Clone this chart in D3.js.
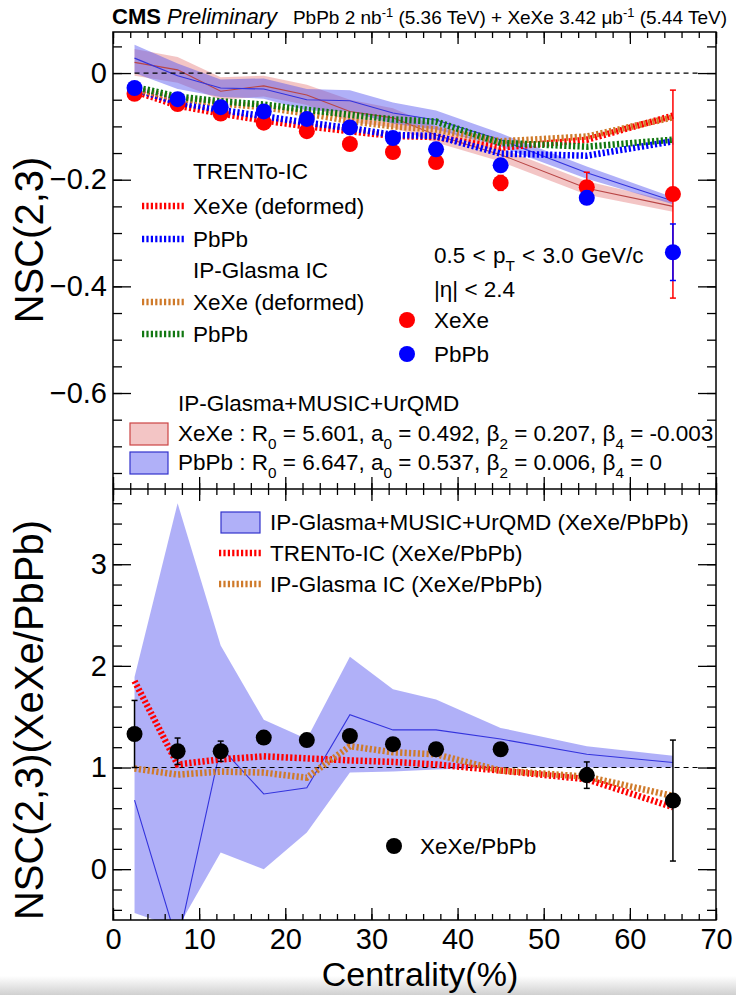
<!DOCTYPE html>
<html>
<head>
<meta charset="utf-8">
<script src="https://cdn.jsdelivr.net/npm/d3@7"></script>
<style>
  body { margin: 0; background: #fff; }
  svg { font-family: "Liberation Sans", Arial, Helvetica, sans-serif; }
</style>
</head>
<body>
<svg id="chart" width="736" height="995"></svg>
<script>
// centrality bins (%)
const centrality = [2.5, 7.5, 12.5, 17.5, 22.5, 27.5, 32.5, 37.5, 45, 55, 65]

// CMS data, NSC(2,3)
const xexeData = [-0.039, -0.058, -0.076, -0.093, -0.109, -0.133, -0.148, -0.167, -0.206, -0.214, -0.227]
const xexeErr = [0.004, 0.004, 0.004, 0.005, 0.005, 0.006, 0.007, 0.008, 0.014, 0.028, 0.195]
const pbpbData = [-0.028, -0.049, -0.064, -0.072, -0.086, -0.102, -0.122, -0.143, -0.173, -0.234, -0.336]
const pbpbErr = [0.003, 0.003, 0.003, 0.004, 0.004, 0.005, 0.006, 0.007, 0.011, 0.012, 0.053]

// IP-Glasma+MUSIC+UrQMD bands
const xexeHydro = [0.020, 0.006, -0.034, -0.024, -0.041, -0.072, -0.084, -0.116, -0.153, -0.216, -0.250]
const xexeHydroHi = [0.045, 0.030, -0.008, -0.005, -0.022, -0.050, -0.066, -0.100, -0.141, -0.203, -0.241]
const xexeHydroLo = [-0.005, -0.018, -0.050, -0.044, -0.060, -0.092, -0.102, -0.130, -0.166, -0.228, -0.260]
const pbpbHydro = [0.028, -0.005, -0.028, -0.030, -0.050, -0.052, -0.075, -0.088, -0.125, -0.187, -0.240]
const pbpbHydroHi = [0.053, 0.018, -0.012, -0.010, -0.030, -0.032, -0.055, -0.070, -0.113, -0.175, -0.233]
const pbpbHydroLo = [0.000, -0.030, -0.045, -0.048, -0.070, -0.072, -0.095, -0.106, -0.138, -0.198, -0.246]

// initial-state estimators
const trentoXeXe = [-0.034, -0.061, -0.076, -0.089, -0.100, -0.109, -0.118, -0.120, -0.140, -0.125, -0.080]
const trentoPbPb = [-0.030, -0.055, -0.069, -0.081, -0.093, -0.103, -0.116, -0.118, -0.151, -0.155, -0.128]
const ipgXeXe = [-0.030, -0.048, -0.057, -0.064, -0.076, -0.090, -0.100, -0.106, -0.128, -0.119, -0.083]
const ipgPbPb = [-0.026, -0.044, -0.053, -0.059, -0.069, -0.078, -0.087, -0.091, -0.131, -0.138, -0.125]

// ratio panel
const ratioData = [1.33, 1.16, 1.16, 1.295, 1.27, 1.31, 1.23, 1.18, 1.18, 0.925, 0.675]
const ratioErr = [0.33, 0.13, 0.10, 0.05, 0.03, 0.04, 0.03, 0.03, 0.03, 0.13, 0.595]
const ratioHydro = [0.68, -0.73, 1.20, 0.74, 0.80, 1.52, 1.37, 1.37, 1.28, 1.13, 1.05]
const ratioHydroHi = [1.89, 3.60, 2.20, 1.47, 1.28, 2.09, 1.77, 1.67, 1.39, 1.21, 1.115]
const ratioHydroLo = [-0.43, -0.58, 0.165, 0.0, 0.36, 0.95, 0.96, 0.98, 1.0, 1.0, 1.0]
const ratioTrento = [1.85, 1.03, 1.08, 1.11, 1.09, 1.07, 1.055, 1.03, 0.97, 0.885, 0.61]
const ratioIpg = [0.99, 0.93, 0.96, 0.95, 0.90, 1.21, 1.15, 1.13, 0.97, 0.91, 0.72]

// ticks
const xMajor = [0, 10, 20, 30, 40, 50, 60, 70]
const xMinor = d3.range(0, 71, 2)
const yTopMajor = [0, -0.2, -0.4, -0.6]
const yTopMinor = d3.range(-0.75, 0.076, 0.05)
const yBotMajor = [0, 1, 2, 3]
const yBotMinor = d3.range(-0.4, 3.71, 0.2)

const X0 = 113, X1 = 716, YT0 = 32, YMID = 489, YB1 = 920
const RED = '#ff0000', BLUE = '#0000ff', ORANGE = '#cf7a2a', GREEN = '#117711'
const LEG = 22.5

const svg = d3.select('#chart')
const x = d3.scaleLinear().domain([0, 70]).range([X0, X1])
const yTop = d3.scaleLinear().domain([-0.78, 0.077]).range([YMID, YT0])
const yBot = d3.scaleLinear().domain([-0.5, 3.74]).range([YB1, YMID])

const defs = svg.append('defs')
defs.append('clipPath').attr('id', 'clipTop').append('rect')
  .attr('x', X0).attr('y', YT0).attr('width', X1 - X0).attr('height', YMID - YT0)
defs.append('clipPath').attr('id', 'clipBot').append('rect')
  .attr('x', X0).attr('y', YMID).attr('width', X1 - X0).attr('height', YB1 - YMID)
const grad = defs.append('linearGradient').attr('id', 'shade').attr('x1', 0).attr('x2', 0).attr('y1', 0).attr('y2', 1)
grad.append('stop').attr('offset', '0%').attr('stop-color', '#fff')
grad.append('stop').attr('offset', '100%').attr('stop-color', '#d0d0d0')
svg.append('rect').attr('x', 0).attr('y', 976).attr('width', 736).attr('height', 19).attr('fill', 'url(#shade)')

const band = (y, lo, hi) => d3.area()
  .x((d, i) => x(centrality[i])).y0((d, i) => y(lo[i])).y1((d, i) => y(hi[i]))(centrality)
const curve = (y, vals) => d3.line().x((d, i) => x(centrality[i])).y(d => y(d))(vals)

function thickDashed(g, y, vals, color) {
  g.append('path').attr('d', curve(y, vals)).attr('fill', 'none')
    .attr('stroke', color).attr('stroke-width', 6.5).attr('stroke-dasharray', '2.2,2.2')
}

function points(g, y, vals, errs, color) {
  const pts = g.append('g')
  vals.forEach((v, i) => {
    const cx = x(centrality[i])
    const lo = y(v - errs[i]), hi = y(v + errs[i])
    pts.append('line').attr('x1', cx).attr('x2', cx).attr('y1', lo).attr('y2', hi)
      .attr('stroke', color).attr('stroke-width', 1.5)
    ;[lo, hi].forEach(yy => pts.append('line').attr('x1', cx - 3).attr('x2', cx + 3)
      .attr('y1', yy).attr('y2', yy).attr('stroke', color).attr('stroke-width', 1.5))
  })
  pts.selectAll('circle').data(vals).enter().append('circle')
    .attr('cx', (d, i) => x(centrality[i])).attr('cy', d => y(d)).attr('r', 8).attr('fill', color)
}

// ---------- top panel ----------
const topG = svg.append('g').attr('clip-path', 'url(#clipTop)')
topG.append('path').attr('d', band(yTop, xexeHydroLo, xexeHydroHi)).attr('fill', 'rgba(220,90,90,0.35)')
topG.append('path').attr('d', band(yTop, pbpbHydroLo, pbpbHydroHi)).attr('fill', 'rgba(80,80,240,0.45)')
topG.append('path').attr('d', curve(yTop, xexeHydro)).attr('fill', 'none').attr('stroke', '#b84545').attr('stroke-width', 1.1)
topG.append('path').attr('d', curve(yTop, pbpbHydro)).attr('fill', 'none').attr('stroke', '#3333dd').attr('stroke-width', 1.1)
topG.append('line').attr('x1', x(2.5)).attr('x2', x(68)).attr('y1', yTop(0)).attr('y2', yTop(0))
  .attr('stroke', '#000').attr('stroke-width', 1.2).attr('stroke-dasharray', '5,4')
thickDashed(topG, yTop, trentoXeXe, RED)
thickDashed(topG, yTop, trentoPbPb, BLUE)
thickDashed(topG, yTop, ipgXeXe, ORANGE)
thickDashed(topG, yTop, ipgPbPb, GREEN)
points(topG, yTop, xexeData, xexeErr, RED)
points(topG, yTop, pbpbData, pbpbErr, BLUE)

// ---------- bottom panel ----------
const botG = svg.append('g').attr('clip-path', 'url(#clipBot)')
botG.append('path').attr('d', band(yBot, ratioHydroLo, ratioHydroHi)).attr('fill', 'rgba(80,80,240,0.45)')
botG.append('path').attr('d', curve(yBot, ratioHydro)).attr('fill', 'none').attr('stroke', '#3333dd').attr('stroke-width', 1.1)
botG.append('line').attr('x1', x(2.5)).attr('x2', x(68)).attr('y1', yBot(1)).attr('y2', yBot(1))
  .attr('stroke', '#000').attr('stroke-width', 1.2).attr('stroke-dasharray', '5,4')
thickDashed(botG, yBot, ratioTrento, RED)
thickDashed(botG, yBot, ratioIpg, ORANGE)
points(botG, yBot, ratioData, ratioErr, '#000')

// ---------- axes and frames ----------
const noDomain = g => g.select('.domain').remove()
function yAxes(y, major, minor, fmt) {
  svg.append('g').attr('transform', `translate(${X0},0)`).style('font-size', '29px')
    .call(d3.axisLeft(y).tickValues(major).tickSize(-18).tickPadding(6).tickFormat(fmt)).call(noDomain)
  svg.append('g').attr('transform', `translate(${X0},0)`)
    .call(d3.axisLeft(y).tickValues(minor).tickSize(-9).tickFormat('')).call(noDomain)
  svg.append('g').attr('transform', `translate(${X1},0)`)
    .call(d3.axisRight(y).tickValues(major).tickSize(-18).tickFormat('')).call(noDomain)
  svg.append('g').attr('transform', `translate(${X1},0)`)
    .call(d3.axisRight(y).tickValues(minor).tickSize(-9).tickFormat('')).call(noDomain)
}
function xAxes(yPos, dir, labels) {
  const ax = dir === 'up' ? d3.axisBottom : d3.axisTop
  svg.append('g').attr('transform', `translate(0,${yPos})`).style('font-size', '29px')
    .call(ax(x).tickValues(xMajor).tickSize(-12).tickPadding(8).tickFormat(labels ? d3.format('d') : '')).call(noDomain)
  svg.append('g').attr('transform', `translate(0,${yPos})`)
    .call(ax(x).tickValues(xMinor).tickSize(-6).tickFormat('')).call(noDomain)
}
yAxes(yTop, yTopMajor, yTopMinor, d => d === 0 ? '0' : d3.format('.1f')(d))
yAxes(yBot, yBotMajor, yBotMinor, d3.format('d'))
xAxes(YT0, 'down', false)
xAxes(YMID, 'up', false)
xAxes(YMID, 'down', false)
xAxes(YB1, 'up', true)
svg.selectAll('.tick line').attr('stroke-width', 1.3)
svg.selectAll('.tick text').attr('fill', '#000')

svg.append('rect').attr('x', X0).attr('y', YT0).attr('width', X1 - X0).attr('height', YB1 - YT0)
  .attr('fill', 'none').attr('stroke', '#000').attr('stroke-width', 1.5)
svg.append('line').attr('x1', X0).attr('x2', X1).attr('y1', YMID).attr('y2', YMID)
  .attr('stroke', '#000').attr('stroke-width', 1.5)

// ---------- titles ----------
svg.append('text').attr('x', 420).attr('y', 986).attr('text-anchor', 'middle')
  .style('font-size', '34px').text('Centrality(%)')
svg.append('text').attr('transform', 'translate(43,240) rotate(-90)').attr('text-anchor', 'middle')
  .style('font-size', '40px').text('NSC(2,3)')
svg.append('text').attr('transform', 'translate(43,720) rotate(-90)').attr('text-anchor', 'middle')
  .style('font-size', '40px').text('NSC(2,3)(XeXe/PbPb)')

function richText(px, py, parts, size, anchor) {
  const t = svg.append('text').attr('x', px).attr('y', py).style('font-size', size + 'px')
    .attr('text-anchor', anchor || 'start')
  let shift = 0
  parts.forEach(([s, kind]) => {
    const want = kind === 'sub' ? size * 0.35 : kind === 'sup' ? -size * 0.38 : 0
    const sp = t.append('tspan').attr('dy', want - shift).text(s)
    if (kind) sp.style('font-size', (size * 0.68) + 'px')
    shift = want
  })
  return t
}

const head = svg.append('text').attr('x', 112).attr('y', 24).style('font-size', '22px')
head.append('tspan').style('font-weight', 'bold').text('CMS')
head.append('tspan').style('font-style', 'italic').text(' Preliminary')
richText(727, 24, [['PbPb 2 nb'], ['-1', 'sup'], [' (5.36 TeV) + XeXe 3.42 μb'], ['-1', 'sup'], [' (5.44 TeV)']], 19, 'end')

// ---------- legends ----------
function dashSample(cx, cy, color) {
  svg.append('line').attr('x1', cx - 21).attr('x2', cx + 21).attr('y1', cy).attr('y2', cy)
    .attr('stroke', color).attr('stroke-width', 6.5).attr('stroke-dasharray', '2.2,2.2')
}
const legendText = (px, py, s) => svg.append('text').attr('x', px).attr('y', py + 8)
  .style('font-size', LEG + 'px').text(s)

legendText(193, 171, 'TRENTo-IC')
dashSample(163, 206, RED); legendText(193, 206, 'XeXe (deformed)')
dashSample(163, 239, BLUE); legendText(193, 239, 'PbPb')
legendText(193, 270, 'IP-Glasma IC')
dashSample(163, 302, ORANGE); legendText(193, 302, 'XeXe (deformed)')
dashSample(163, 334, GREEN); legendText(193, 334, 'PbPb')

richText(434, 263, [['0.5 < p'], ['T', 'sub'], [' < 3.0 GeV/c']], LEG).style('word-spacing', '1px')
legendText(434, 289, '|η| < 2.4')
svg.append('circle').attr('cx', 407).attr('cy', 320).attr('r', 8).attr('fill', RED)
legendText(434, 320, 'XeXe')
svg.append('circle').attr('cx', 407).attr('cy', 354).attr('r', 8).attr('fill', BLUE)
legendText(434, 354, 'PbPb')

legendText(178, 403, 'IP-Glasma+MUSIC+UrQMD')
svg.append('rect').attr('x', 130).attr('y', 423).attr('width', 38).attr('height', 22)
  .attr('fill', 'rgba(220,90,90,0.35)').attr('stroke', '#c44').attr('stroke-width', 1.2)
richText(178, 441, [['XeXe : R'], ['0', 'sub'], [' = 5.601, a'], ['0', 'sub'], [' = 0.492, β'], ['2', 'sub'],
  [' = 0.207, β'], ['4', 'sub'], [' = -0.003']], LEG)
svg.append('rect').attr('x', 130).attr('y', 452).attr('width', 38).attr('height', 22)
  .attr('fill', 'rgba(80,80,240,0.45)').attr('stroke', '#33c').attr('stroke-width', 1.2)
richText(178, 470, [['PbPb : R'], ['0', 'sub'], [' = 6.647, a'], ['0', 'sub'], [' = 0.537, β'], ['2', 'sub'],
  [' = 0.006, β'], ['4', 'sub'], [' = 0']], LEG)

svg.append('rect').attr('x', 221).attr('y', 512).attr('width', 39).attr('height', 21)
  .attr('fill', 'rgba(80,80,240,0.45)').attr('stroke', '#33c').attr('stroke-width', 1.2)
legendText(270, 522, 'IP-Glasma+MUSIC+UrQMD (XeXe/PbPb)')
dashSample(240, 553, RED); legendText(270, 553, 'TRENTo-IC (XeXe/PbPb)')
dashSample(240, 584, ORANGE); legendText(270, 584, 'IP-Glasma IC (XeXe/PbPb)')

svg.append('circle').attr('cx', 394).attr('cy', 846).attr('r', 8).attr('fill', '#000')
legendText(420, 846, 'XeXe/PbPb')
</script>
</body>
</html>
